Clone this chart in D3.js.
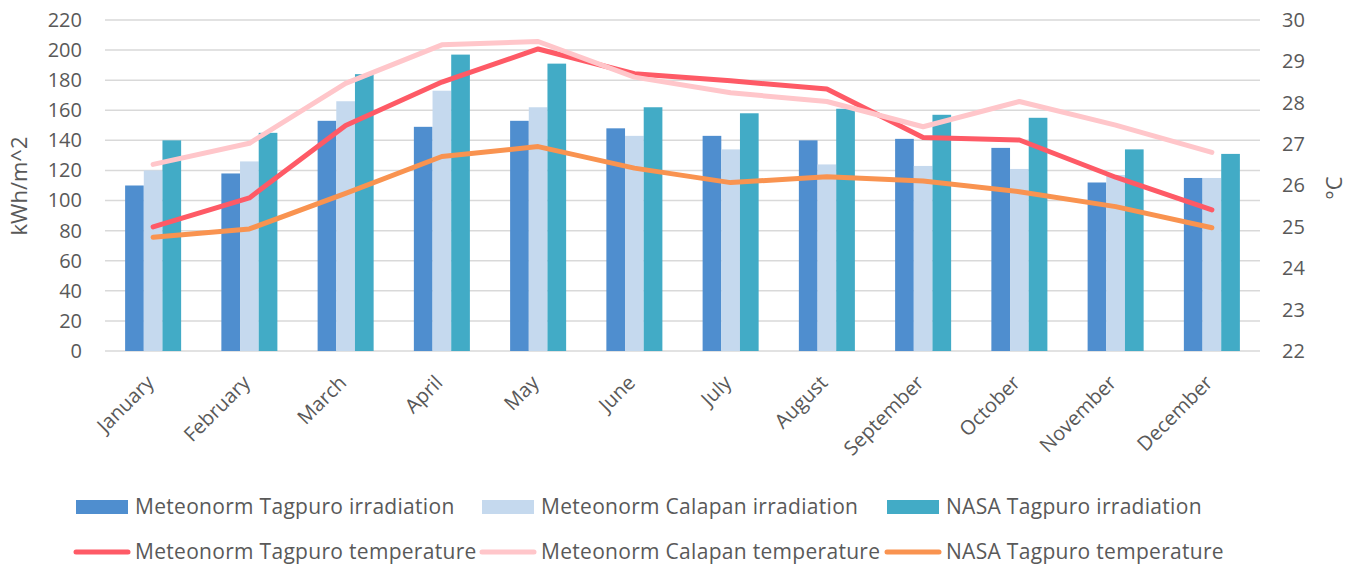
<!DOCTYPE html>
<html>
<head>
<meta charset="utf-8">
<script src="https://cdn.jsdelivr.net/npm/d3@7"></script>
<style>
  html, body { margin: 0; padding: 0; background: #fff; }
  svg { display: block; font-family: "Open Sans", Lato, sans-serif; }
</style>
</head>
<body>
<svg id="chart" width="1358" height="568"></svg>
<script>
// ---- data ----
const months = ["January","February","March","April","May","June","July","August","September","October","November","December"];
const meteonormTagpuroIrr = [110, 118, 153, 149, 153, 148, 143, 140, 141, 135, 112, 115];
const meteonormCalapanIrr = [120, 126, 166, 173, 162, 143, 134, 124, 123, 121, 117, 115];
const nasaTagpuroIrr      = [140, 145, 184, 197, 191, 162, 158, 161, 157, 155, 134, 131];
const meteonormTagpuroTemp = [25.0, 25.7, 27.45, 28.5, 29.3, 28.7, 28.53, 28.33, 27.16, 27.1, 26.2, 25.41];
const meteonormCalapanTemp = [26.51, 27.02, 28.47, 29.4, 29.48, 28.62, 28.24, 28.03, 27.42, 28.03, 27.46, 26.8];
const nasaTagpuroTemp      = [24.75, 24.95, 25.81, 26.7, 26.94, 26.42, 26.07, 26.21, 26.11, 25.85, 25.49, 24.98];
const leftTicks = [0, 20, 40, 60, 80, 100, 120, 140, 160, 180, 200, 220];
const rightTicks = [22, 23, 24, 25, 26, 27, 28, 29, 30];

const barSeries = [
  { name: "Meteonorm Tagpuro irradiation", values: meteonormTagpuroIrr, color: "#4f8ecf" },
  { name: "Meteonorm Calapan irradiation", values: meteonormCalapanIrr, color: "#c5d9ee" },
  { name: "NASA Tagpuro irradiation", values: nasaTagpuroIrr, color: "#42abc6" }
];
const lineSeries = [
  { name: "Meteonorm Tagpuro temperature", values: meteonormTagpuroTemp, color: "#fe5a66" },
  { name: "Meteonorm Calapan temperature", values: meteonormCalapanTemp, color: "#ffc6ca" },
  { name: "NASA Tagpuro temperature", values: nasaTagpuroTemp, color: "#f99350" }
];

// ---- layout ----
const svg = d3.select("#chart");
const plotLeft = 105, plotRight = 1260, plotTop = 20, plotBottom = 351;
const textColor = "#595959";
const fontFam = "'Open Sans', Lato, sans-serif";

const x = d3.scaleBand().domain(months).range([plotLeft, plotRight]).paddingInner(0.418).paddingOuter(0.209);
const xSub = d3.scaleBand().domain(barSeries.map(d => d.name)).range([0, x.bandwidth()]);
const yL = d3.scaleLinear().domain([0, 220]).range([plotBottom, plotTop]);
const yR = d3.scaleLinear().domain([22, 30]).range([plotBottom, plotTop]);

// gridlines
svg.append("g").selectAll("line").data(leftTicks).join("line")
  .attr("x1", plotLeft).attr("x2", plotRight)
  .attr("y1", d => yL(d)).attr("y2", d => yL(d))
  .attr("stroke", "#d9d9d9").attr("stroke-width", 1.5);

// left axis
const axL = svg.append("g").attr("transform", `translate(${plotLeft},0)`)
  .call(d3.axisLeft(yL).tickValues(leftTicks).tickSize(0).tickPadding(23));
axL.select(".domain").remove();
axL.selectAll("text").attr("fill", textColor).style("font-size", "20px").style("font-family", fontFam);

// right axis
const axR = svg.append("g").attr("transform", `translate(${plotRight},0)`)
  .call(d3.axisRight(yR).tickValues(rightTicks).tickSize(0).tickPadding(22));
axR.select(".domain").remove();
axR.selectAll("text").attr("fill", textColor).style("font-size", "20px").style("font-family", fontFam);

// axis titles
svg.append("text").attr("transform", "translate(27,186) rotate(-90)")
  .attr("text-anchor", "middle").attr("fill", textColor).style("font-size", "22px").text("kWh/m^2");
svg.append("text").attr("transform", "translate(1342,188) rotate(-90)")
  .attr("text-anchor", "middle").attr("fill", textColor).style("font-size", "22px").text("°C");

// x labels
svg.append("g").selectAll("text").data(months).join("text")
  .attr("transform", d => `translate(${x(d) + x.bandwidth() / 2 + 2},${plotBottom + 33}) rotate(-45)`)
  .attr("text-anchor", "end").attr("fill", textColor).style("font-size", "20px")
  .text(d => d);

// bars
const groups = svg.append("g").selectAll("g").data(barSeries).join("g").attr("fill", d => d.color);
groups.selectAll("rect").data(s => s.values.map((v, i) => ({ s: s.name, m: months[i], v })))
  .join("rect")
  .attr("x", d => x(d.m) + xSub(d.s))
  .attr("width", xSub.bandwidth())
  .attr("y", d => yL(d.v))
  .attr("height", d => yL(0) - yL(d.v));

// lines
const line = d3.line().x((d, i) => x(months[i]) + x.bandwidth() / 2).y(d => yR(d));
svg.append("g").selectAll("path").data(lineSeries).join("path")
  .attr("d", d => line(d.values))
  .attr("fill", "none").attr("stroke", d => d.color).attr("stroke-width", 5)
  .attr("stroke-linejoin", "round").attr("stroke-linecap", "round");

// legend
const cols = [76, 482, 887];
const rows = [507, 552];
const leg = svg.append("g").style("font-size", "21px").style("letter-spacing", "0.3px");
barSeries.forEach((s, i) => {
  leg.append("rect").attr("x", cols[i]).attr("y", rows[0] - 7).attr("width", 52).attr("height", 14).attr("fill", s.color);
  leg.append("text").attr("x", cols[i] + 59).attr("y", rows[0]).attr("dy", "0.35em").attr("fill", textColor).text(s.name);
});
lineSeries.forEach((s, i) => {
  leg.append("line").attr("x1", cols[i]).attr("x2", cols[i] + 52).attr("y1", rows[1]).attr("y2", rows[1])
    .attr("stroke", s.color).attr("stroke-width", 5).attr("stroke-linecap", "round");
  leg.append("text").attr("x", cols[i] + 59).attr("y", rows[1]).attr("dy", "0.35em").attr("fill", textColor).text(s.name);
});
</script>
</body>
</html>
